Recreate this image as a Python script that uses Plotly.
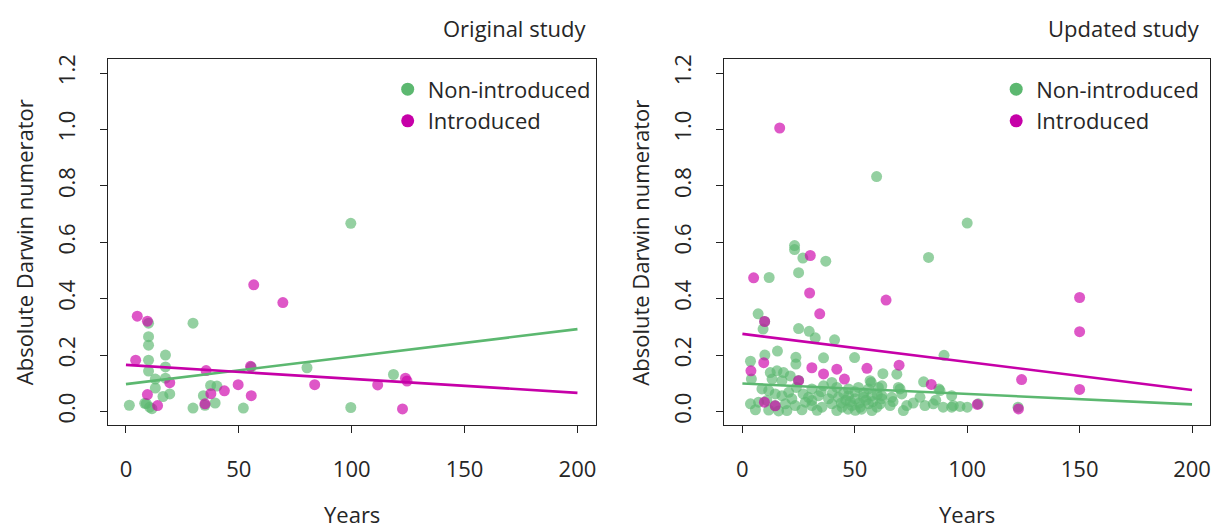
import plotly.graph_objects as go

FONT = "Open Sans"
TXT = "#262626"
GREEN = "rgb(92,184,112)"
MAGENTA = "rgb(198,0,168)"
GREEN_PT = "rgba(92,184,112,0.66)"
MAGENTA_PT = "rgba(205,0,170,0.66)"

# ---------------- data ----------------
x_ticks = [0, 50, 100, 150, 200]
y_ticks = [0.0, 0.2, 0.4, 0.6, 0.8, 1.0, 1.2]
fit_years = [0, 200]

# Original study
orig_non_years = [1.5, 9.0, 10, 10, 10, 10, 10, 8.3, 10.5, 11.5, 13, 13, 17.5, 17.5, 17.5, 16.4,
                  19.4, 29.7, 29.7, 34.3, 37.5, 40.3, 39.5, 35.0, 52.0, 55.5, 80.2, 99.6, 99.6, 118.5]
orig_non_vals = [0.022, 0.028, 0.313, 0.265, 0.235, 0.182, 0.143, 0.029, 0.015, 0.010, 0.115, 0.083,
                 0.200, 0.158, 0.118, 0.053, 0.062, 0.313, 0.012, 0.056, 0.092, 0.090, 0.030, 0.022,
                 0.012, 0.157, 0.155, 0.667, 0.014, 0.131]
orig_int_years = [5.0, 9.5, 4.3, 19.4, 9.5, 14.0, 35.5, 37.6, 35.0, 43.6, 49.7, 55.2, 55.5, 56.6,
                  69.5, 83.6, 111.5, 123.8, 124.5, 122.5]
orig_int_vals = [0.338, 0.320, 0.182, 0.102, 0.060, 0.021, 0.145, 0.063, 0.027, 0.073, 0.095, 0.160,
                 0.056, 0.449, 0.386, 0.095, 0.094, 0.118, 0.108, 0.009]
orig_non_fit = [0.097, 0.292]
orig_int_fit = [0.165, 0.066]

# Updated study
upd_non_years = [59.7, 100, 82.8, 23.2, 23.2, 26.9, 37.1, 25, 11.9, 7, 9.9, 9.2, 25, 29.7, 32.4, 41, 89.7,
                 15.6, 10, 3.6, 23.8, 23.8, 49.9, 36.1, 12.4, 15.4, 18.3, 21.3, 4, 13.2, 17.6, 25, 56.8,
                 62.5, 68.7, 80.6, 57.3, 62, 69.4, 87.4, 70.1, 87.9,
                 8.7, 11.7, 14.6, 17.6, 20.6, 3.6, 7.2, 10.9, 14.6, 19.1, 23.5, 28, 30.9, 5.8, 11.7, 16.1,
                 19.8, 26.5, 24, 27, 22,
                 30.9, 36.1, 39.8, 42, 47.2, 51.6, 56.1, 60.5, 29.4, 33.9, 38.3, 42.7, 47.2, 50.2, 53.8,
                 57.6, 62, 30.9, 35.4, 39.8, 44.3, 48.7, 52.4, 56.1, 59.8, 33.2, 42, 50.2, 57.6,
                 45, 50, 54, 48, 52, 55, 46, 58, 40, 35, 44, 53, 47, 60,
                 62, 66.4, 70.9, 79, 93.1, 61.3, 65.7, 73.1, 81.2, 84.9, 89.3, 93.1, 71.6, 93.8, 96.8,
                 100, 104.9, 122.6, 67, 76, 86]
upd_non_vals = [0.833, 0.668, 0.546, 0.588, 0.574, 0.544, 0.533, 0.492, 0.475, 0.346, 0.319, 0.292,
                0.294, 0.284, 0.261, 0.254, 0.199,
                0.214, 0.200, 0.178, 0.192, 0.168, 0.191, 0.190, 0.138, 0.144, 0.138, 0.126, 0.115,
                0.115, 0.109, 0.110, 0.109, 0.134, 0.132, 0.105, 0.103, 0.091, 0.085, 0.080, 0.080, 0.074,
                0.080, 0.074, 0.062, 0.056, 0.068, 0.027, 0.033, 0.039, 0.021, 0.027, 0.021, 0.033,
                0.039, 0.006, 0.005, 0.002, 0.003, 0.006, 0.085, 0.062, 0.045,
                0.080, 0.091, 0.103, 0.085, 0.080, 0.085, 0.080, 0.085, 0.050, 0.056, 0.045, 0.050,
                0.056, 0.045, 0.050, 0.056, 0.045, 0.021, 0.015, 0.027, 0.015, 0.021, 0.015, 0.027,
                0.015, 0.004, 0.003, 0.004, 0.003,
                0.065, 0.070, 0.065, 0.035, 0.030, 0.040, 0.040, 0.035, 0.065, 0.070, 0.030, 0.008,
                0.008, 0.060,
                0.056, 0.050, 0.062, 0.050, 0.056, 0.027, 0.021, 0.021, 0.021, 0.027, 0.015, 0.015,
                0.003, 0.021, 0.018, 0.015, 0.027, 0.015, 0.035, 0.030, 0.040]
upd_int_years = [16.6, 30.2, 5, 29.9, 63.9, 34.4, 9.9, 150, 150, 150, 124.2, 122.8, 104.5, 84, 69.7,
                 30.9, 42, 55.4, 36.1, 45.4, 25, 9.5, 3.8, 9.8, 14.6]
upd_int_vals = [1.005, 0.553, 0.474, 0.420, 0.395, 0.346, 0.319, 0.404, 0.283, 0.078, 0.113, 0.009,
                0.025, 0.096, 0.164, 0.155, 0.150, 0.153, 0.133, 0.115, 0.109, 0.173, 0.144, 0.033, 0.020]
upd_non_fit = [0.099, 0.025]
upd_int_fit = [0.275, 0.076]

# ---------------- figure ----------------
W, H = 1220, 529
fig = go.Figure()

panels = [
    ("x", "y", "legend", orig_non_years, orig_non_vals, orig_int_years, orig_int_vals, orig_non_fit, orig_int_fit),
    ("x2", "y2", "legend2", upd_non_years, upd_non_vals, upd_int_years, upd_int_vals, upd_non_fit, upd_int_fit),
]
MS = 11
for xa, ya, lg, nx, ny, ix, iy, nfit, ifit in panels:
    fig.add_trace(go.Scatter(x=nx, y=ny, mode="markers", xaxis=xa, yaxis=ya, showlegend=False,
                             marker=dict(size=MS, color=GREEN_PT, line=dict(width=0))))
    fig.add_trace(go.Scatter(x=ix, y=iy, mode="markers", xaxis=xa, yaxis=ya, showlegend=False,
                             marker=dict(size=MS, color=MAGENTA_PT, line=dict(width=0))))
    fig.add_trace(go.Scatter(x=fit_years, y=nfit, mode="lines", xaxis=xa, yaxis=ya, showlegend=False,
                             line=dict(color=GREEN, width=2.6)))
    fig.add_trace(go.Scatter(x=fit_years, y=ifit, mode="lines", xaxis=xa, yaxis=ya, showlegend=False,
                             line=dict(color=MAGENTA, width=2.6)))
    # legend entries
    fig.add_trace(go.Scatter(x=[None], y=[None], mode="markers", xaxis=xa, yaxis=ya, legend=lg,
                             name="Non-introduced", marker=dict(size=13, color=GREEN)))
    fig.add_trace(go.Scatter(x=[None], y=[None], mode="markers", xaxis=xa, yaxis=ya, legend=lg,
                             name="Introduced", marker=dict(size=13, color=MAGENTA)))

LEFT = (108, 596)
RIGHT = (725, 1211)
TOP, BOT = 55, 424
ydom = [1 - BOT / H, 1 - TOP / H]
FS = 22

axis_common = dict(showgrid=False, zeroline=False, showline=True, mirror=True, linecolor="#222",
                   linewidth=1.4, ticks="outside", ticklen=7, tickwidth=1.3, tickcolor="#222",
                   tickfont=dict(family=FONT, size=FS, color=TXT))
xcommon = dict(axis_common, range=[-8, 208], tickvals=x_ticks, ticklabelstandoff=17)
ycommon = dict(axis_common, range=[-0.048, 1.248], tickvals=y_ticks, tickformat=".1f",
               tickangle=-90, ticklabelstandoff=16, domain=ydom)

legend_common = dict(font=dict(family=FONT, size=FS, color=TXT), bgcolor="rgba(0,0,0,0)",
                     itemsizing="trace", xanchor="left", yanchor="top", tracegroupgap=0)

fig.update_layout(
    width=W, height=H, margin=dict(l=0, r=0, t=0, b=0),
    paper_bgcolor="white", plot_bgcolor="white",
    xaxis=dict(xcommon, domain=[LEFT[0] / W, LEFT[1] / W], anchor="y"),
    yaxis=dict(ycommon, anchor="x"),
    xaxis2=dict(xcommon, domain=[RIGHT[0] / W, RIGHT[1] / W], anchor="y2"),
    yaxis2=dict(ycommon, anchor="x2"),
    legend=dict(legend_common, x=388 / W, y=1 - 64 / H),
    legend2=dict(legend_common, x=997 / W, y=1 - 64 / H),
)

ann = []
for (l, r), title in [(LEFT, "Original study"), (RIGHT, "Updated study")]:
    ann.append(dict(text=title, x=(r - 8) / W, y=1 - 23 / H, xref="paper", yref="paper",
                    xanchor="right", yanchor="middle", showarrow=False,
                    font=dict(family=FONT, size=FS, color=TXT)))
    ann.append(dict(text="Years", x=(l + r) / 2 / W, y=1 - 514 / H, xref="paper", yref="paper",
                    xanchor="center", yanchor="middle", showarrow=False,
                    font=dict(family=FONT, size=FS, color=TXT)))
    ann.append(dict(text="Absolute Darwin numerator", x=(l - 84) / W, y=1 - (TOP + BOT) / 2 / H,
                    xref="paper", yref="paper", xanchor="center", yanchor="middle", textangle=-90,
                    showarrow=False, font=dict(family=FONT, size=FS, color=TXT)))
fig.update_layout(annotations=ann)

fig.write_html("out.html", config={"displayModeBar": False},
               post_script="document.body.style.margin='0';document.body.style.overflow='hidden';")
